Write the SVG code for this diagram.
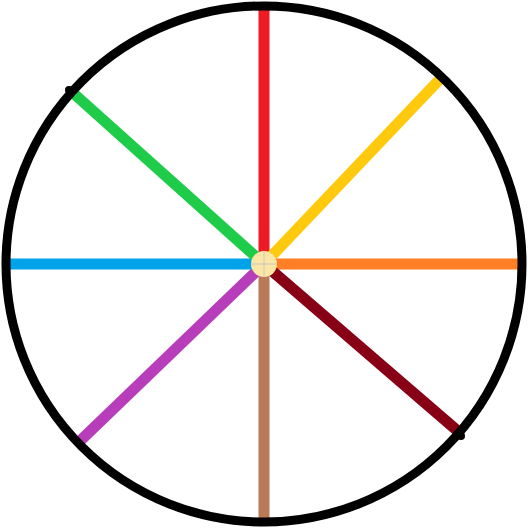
<svg xmlns="http://www.w3.org/2000/svg" width="528" height="528" viewBox="0 0 528 528">
<style>
.spoke{stroke-width:11;stroke-linecap:butt;fill:none}
</style>
<rect width="528" height="528" fill="#ffffff"/>
<g id="spokes">
<line class="spoke" x1="264" y1="8" x2="264" y2="264" stroke="#ED1C24"/>
<line class="spoke" x1="440" y1="79" x2="264" y2="264" stroke="#FFC90E"/>
<line class="spoke" x1="520" y1="264" x2="264" y2="264" stroke="#FF7F27"/>
<line class="spoke" x1="460" y1="433" x2="264" y2="264" stroke="#880015"/>
<line class="spoke" x1="264" y1="520" x2="264" y2="264" stroke="#B97A57"/>
<line class="spoke" x1="80" y1="441" x2="264" y2="264" stroke="#B83DBA"/>
<line class="spoke" x1="9" y1="264" x2="264" y2="264" stroke="#00A2E8"/>
<line class="spoke" x1="72" y1="92" x2="264" y2="264" stroke="#1ECC4A"/>
</g>
<g id="rim">
<circle cx="264" cy="264" r="258" fill="none" stroke="#000000" stroke-width="9"/>
<circle cx="69" cy="90" r="4" fill="#000000"/>
<circle cx="461" cy="436" r="4" fill="#000000"/>
</g>
<g id="hub">
<circle cx="264" cy="264" r="13" fill="#FBE6A3"/>
<line x1="264" y1="251" x2="264" y2="277" stroke="#C8C8C8" stroke-width="1"/>
<line x1="251" y1="264" x2="277" y2="264" stroke="#C8C8C8" stroke-width="1"/>
</g>
</svg>
